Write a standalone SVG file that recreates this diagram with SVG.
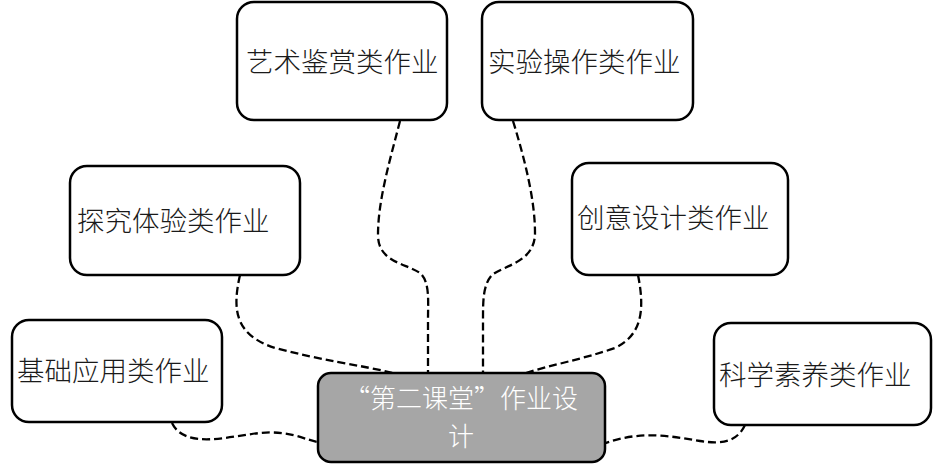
<svg xmlns="http://www.w3.org/2000/svg" width="937" height="469" viewBox="0 0 937 469">
<style>
.box{fill:#fff;stroke:#000;stroke-width:2.5}
.center{fill:#a6a6a6;stroke:#000;stroke-width:2.5}
.lbl{font-family:"Noto Sans CJK SC","Noto Sans CJK JP",sans-serif;font-size:27.5px;font-weight:300;fill:#1a1a1a}
.clbl{font-family:"Noto Sans CJK SC","Noto Sans CJK JP",sans-serif;font-size:26px;font-weight:300;fill:#fff;text-anchor:middle}
.conn{fill:none;stroke:#000;stroke-width:2.3;stroke-dasharray:8 4}
</style>
<rect width="937" height="469" fill="#fff"/>
<g id="connectors">
<path class="conn" d="M172,423 C185,450 230,436 260,433 C290,430 305,440 318,442"/>
<path class="conn" d="M240,275 C232,310 235,335 275,348 C320,360 360,365 393,373"/>
<path class="conn" d="M400,121 C390,160 378,200 378,235 C378,262 405,263 420,273 C430,282 428,300 428,320 L428,373"/>
<path class="conn" d="M513,121 C525,160 535,200 535,233 C535,262 505,265 492,275 C483,285 483,300 483,320 L483,373"/>
<path class="conn" d="M638,275 C645,310 642,335 615,348 C580,360 550,365 523,374"/>
<path class="conn" d="M745,425 C738,440 725,445 700,441 C670,436 640,430 603,444"/>
</g>
<g id="n-yishu">
<rect class="box" x="237" y="2" width="210" height="118" rx="17"/>
<text class="lbl" x="246" y="72">艺术鉴赏类作业</text>
</g>
<g id="n-shiyan">
<rect class="box" x="482" y="2" width="211" height="118" rx="17"/>
<text class="lbl" x="488" y="72">实验操作类作业</text>
</g>
<g id="n-tanjiu">
<rect class="box" x="70" y="166" width="230" height="109" rx="17"/>
<text class="lbl" x="77" y="231">探究体验类作业</text>
</g>
<g id="n-chuangyi">
<rect class="box" x="572" y="163" width="216" height="112" rx="17"/>
<text class="lbl" x="577" y="228">创意设计类作业</text>
</g>
<g id="n-jichu">
<rect class="box" x="12" y="320" width="210" height="102" rx="17"/>
<text class="lbl" x="17" y="381">基础应用类作业</text>
</g>
<g id="n-kexue">
<rect class="box" x="714" y="323" width="217" height="102" rx="17"/>
<text class="lbl" x="719" y="385">科学素养类作业</text>
</g>
<g id="n-center">
<rect class="center" x="318" y="373" width="287" height="89" rx="13"/>
<text class="clbl"><tspan x="461" y="408">“第二课堂”作业设</tspan><tspan x="461" y="446">计</tspan></text>
</g>
</svg>
